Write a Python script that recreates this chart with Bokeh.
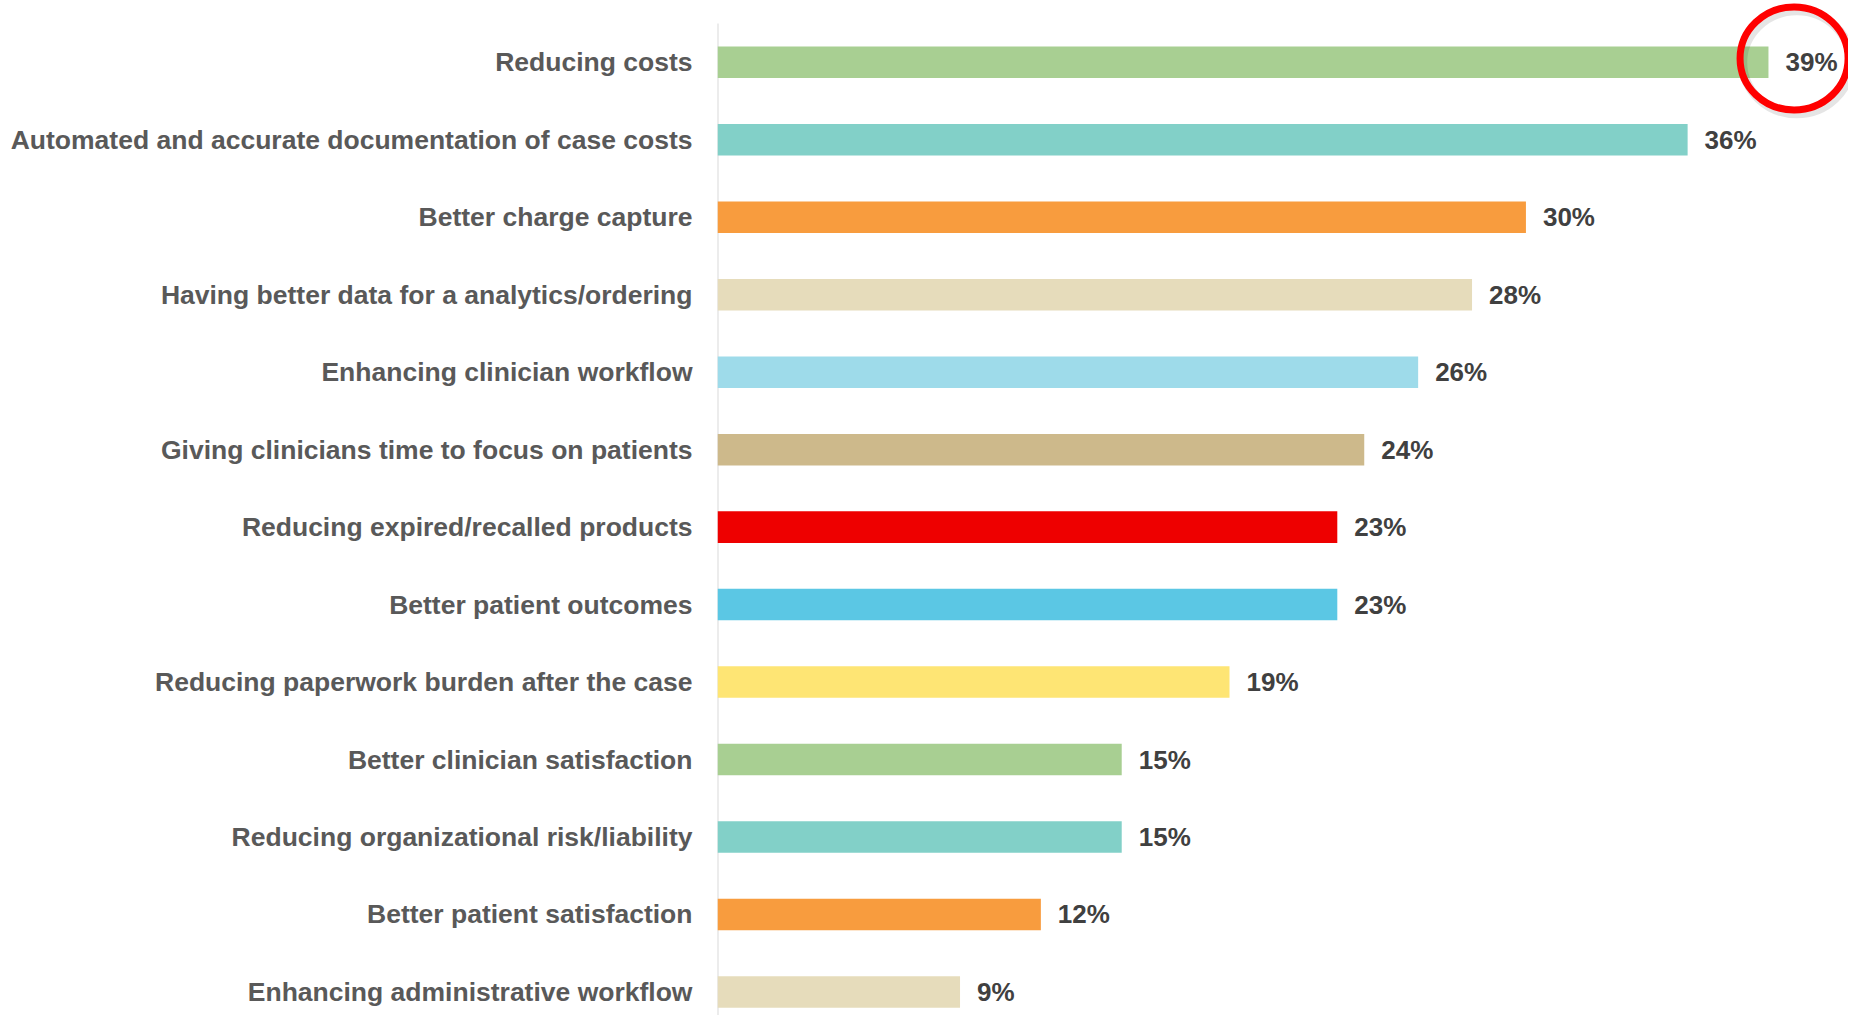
from bokeh.plotting import figure
from bokeh.models import ColumnDataSource, Range1d, FixedTicker
from bokeh.embed import file_html
from bokeh.resources import INLINE
from bokeh.core.properties import value

categories = [
    "Reducing costs",
    "Automated and accurate documentation of case costs",
    "Better charge capture",
    "Having better data for a analytics/ordering",
    "Enhancing clinician workflow",
    "Giving clinicians time to focus on patients",
    "Reducing expired/recalled products",
    "Better patient outcomes",
    "Reducing paperwork burden after the case",
    "Better clinician satisfaction",
    "Reducing organizational risk/liability",
    "Better patient satisfaction",
    "Enhancing administrative workflow",
]
values = [39, 36, 30, 28, 26, 24, 23, 23, 19, 15, 15, 12, 9]
colors = [
    "#a8cf92", "#82d0c8", "#f89c3e", "#e6dcbb", "#9edbea", "#cdb98b",
    "#ee0000", "#5bc7e4", "#fee574", "#a8cf92", "#82d0c8", "#f89c3e", "#e6dcbb",
]
value_labels = [f"{v}%" for v in values]

pos = list(range(len(categories)))
src = ColumnDataSource(dict(y=pos, v=values, c=colors, t=value_labels))

W, H = 1848, 1015
y_top, y_bottom = -0.798, 12.304
p = figure(width=W, height=H, output_backend="svg", toolbar_location=None,
           x_range=Range1d(0, 41.97), y_range=Range1d(y_bottom, y_top),
           min_border_left=717, min_border_right=0, min_border_top=0, min_border_bottom=0,
           outline_line_color=None, background_fill_color="white", border_fill_color="white")

# vertical axis line (starts just above the first bar)
p.segment(x0=[0], x1=[0], y0=[-0.5], y1=[y_bottom], line_color="#d9d9d9", line_width=2)

p.hbar(y="y", left=0, right="v", height=0.407, fill_color="c", line_color=None, source=src)

p.text(x="v", y="y", text="t", source=src, x_offset=17,
       text_baseline="middle", text_align="left",
       text_font=value("Liberation Sans"), text_font_style="bold",
       text_font_size="26px", text_color="#404040")

# highlight circle around the top value
top_x = values[0] + 0.95
p.ellipse(x=[top_x + 0.1], y=[0.0], width=108, height=103,
          width_units="screen", height_units="screen",
          fill_color=None, line_color="#000000", line_alpha=0.10, line_width=9)
p.ellipse(x=[top_x], y=[-0.05], width=108, height=103,
          width_units="screen", height_units="screen",
          fill_color=None, line_color="#ff0000", line_width=7)

p.xaxis.visible = False
p.xgrid.visible = False
p.ygrid.visible = False

yax = p.yaxis[0]
yax.ticker = FixedTicker(ticks=pos)
yax.major_label_overrides = {i: c for i, c in enumerate(categories)}
yax.major_tick_line_color = None
yax.minor_tick_line_color = None
yax.major_tick_out = 0
yax.major_tick_in = 0
yax.major_label_standoff = 25
yax.axis_line_color = None
yax.major_label_text_font = "Liberation Sans"
yax.major_label_text_font_style = "bold"
yax.major_label_text_font_size = "26.5px"
yax.major_label_text_color = "#595959"

open("out.html", "w").write(file_html(p, INLINE))
